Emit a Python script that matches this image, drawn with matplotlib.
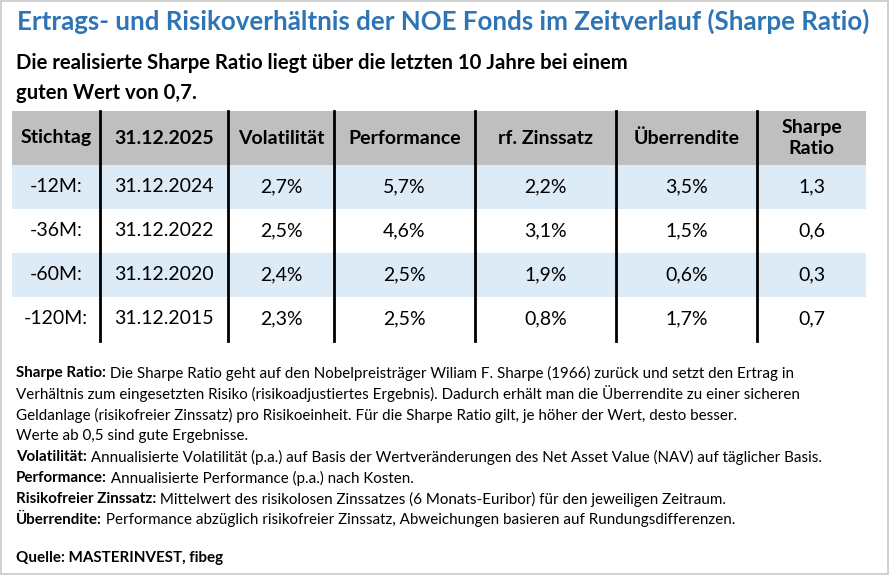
import matplotlib
matplotlib.use("Agg")
import matplotlib.pyplot as plt
from matplotlib.patches import Rectangle

plt.rcParams["font.family"] = ["Lato", "DejaVu Sans"]

TITLE = "Ertrags- und Risikoverhältnis der NOE Fonds im Zeitverlauf (Sharpe Ratio)"
SUBTITLE = ["Die realisierte Sharpe Ratio liegt über die letzten 10 Jahre bei einem",
            "guten Wert von 0,7."]
HEADERS = ["Stichtag", "31.12.2025", "Volatilität", "Performance", "rf. Zinssatz",
           "Überrendite", "Sharpe\nRatio"]
periods = ["-12M:", "-36M:", "-60M:", "-120M:"]
dates = ["31.12.2024", "31.12.2022", "31.12.2020", "31.12.2015"]
volatility = ["2,7%", "2,5%", "2,4%", "2,3%"]
performance = ["5,7%", "4,6%", "2,5%", "2,5%"]
rf_rate = ["2,2%", "3,1%", "1,9%", "0,8%"]
excess = ["3,5%", "1,5%", "0,6%", "1,7%"]
sharpe = ["1,3", "0,6", "0,3", "0,7"]
NOTES = [
    ("Sharpe Ratio:", " Die Sharpe Ratio geht auf den Nobelpreisträger Wiliam F. Sharpe (1966) zurück und setzt den Ertrag in"),
    ("", "Verhältnis zum eingesetzten Risiko (risikoadjustiertes Ergebnis). Dadurch erhält man die Überrendite zu einer sicheren"),
    ("", "Geldanlage (risikofreier Zinssatz) pro Risikoeinheit. Für die Sharpe Ratio gilt, je höher der Wert, desto besser."),
    ("", "Werte ab 0,5 sind gute Ergebnisse."),
    ("Volatilität:", " Annualisierte Volatilität (p.a.) auf Basis der Wertveränderungen des Net Asset Value (NAV) auf täglicher Basis."),
    ("Performance:", " Annualisierte Performance (p.a.) nach Kosten."),
    ("Risikofreier Zinssatz:", " Mittelwert des risikolosen Zinssatzes (6 Monats-Euribor) für den jeweiligen Zeitraum."),
    ("Überrendite:", " Performance abzüglich risikofreier Zinssatz, Abweichungen basieren auf Rundungsdifferenzen."),
]
SOURCE = "Quelle: MASTERINVEST, fibeg"

fig = plt.figure(figsize=(8.9, 5.76), dpi=100)
ax = fig.add_axes([0, 0, 1, 1])
ax.set_xlim(0, 890)
ax.set_ylim(576, 0)
ax.axis("off")
ax.add_patch(Rectangle((1, 1), 887, 573, fill=False, ec="#c8c8c8", lw=1.2))

ax.text(443, 21, TITLE, ha="center", va="center", fontsize=18.6, fontweight="bold", color="#2e75b6")
for i, s in enumerate(SUBTITLE):
    ax.text(16, 63 + i * 30, s, va="center", fontsize=14.6, fontweight="bold")

cols = [12, 100, 228, 334, 475, 616, 757, 866]
top, head_bot, row_h = 111, 165, 44
ax.add_patch(Rectangle((cols[0], top), cols[-1] - cols[0], head_bot - top, color="#bfbfbf", lw=0))
rows = list(zip(periods, dates, volatility, performance, rf_rate, excess, sharpe))
for r, vals in enumerate(rows):
    y0 = head_bot + r * row_h
    if r % 2 == 0:
        ax.add_patch(Rectangle((cols[0], y0), cols[-1] - cols[0], row_h, color="#ddebf7", lw=0))
    for c, v in enumerate(vals):
        ax.text((cols[c] + cols[c + 1]) / 2, y0 + row_h / 2, v, ha="center", va="center", fontsize=14)
for c, h in enumerate(HEADERS):
    ax.text((cols[c] + cols[c + 1]) / 2, (top + head_bot) / 2, h, ha="center", va="center",
            fontsize=14, fontweight="bold", linespacing=1.25)
bottom = head_bot + len(rows) * row_h
for x in cols[1:-1]:
    ax.plot([x, x], [top, bottom], color="black", lw=2)

fig.canvas.draw()
renderer = fig.canvas.get_renderer()
for i, (b, t) in enumerate(NOTES):
    y = 373 + i * 21
    x = 16
    if b:
        tb = ax.text(x, y, b, va="center", fontsize=10.9, fontweight="bold")
        bb = tb.get_window_extent(renderer)
        x += bb.width
    ax.text(x, y, t, va="center", fontsize=10.9)
ax.text(16, 558, SOURCE, va="center", fontsize=10.9, fontweight="bold")

fig.savefig("out.png", dpi=100)
